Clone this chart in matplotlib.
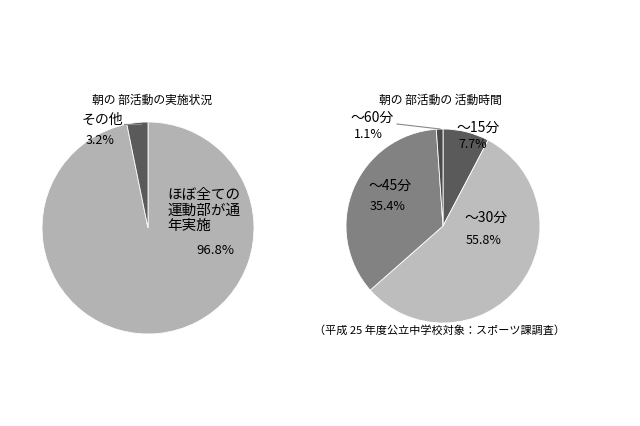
import matplotlib
matplotlib.use("Agg")
import matplotlib.pyplot as plt

plt.rcParams['font.family'] = ['Noto Sans CJK JP', 'DejaVu Sans']

left_labels = ["ほぼ全ての\n運動部が通\n年実施", "その他"]
left_values = [96.8, 3.2]
left_colors = ["#b3b3b3", "#5a5a5a"]

right_labels = ["～15分", "～30分", "～45分", "～60分"]
right_values = [7.7, 55.8, 35.4, 1.1]
right_colors = ["#5a5a5a", "#bdbdbd", "#828282", "#4a4a4a"]

W, H = 640, 426
fig = plt.figure(figsize=(6.4, 4.26), dpi=100)

def px_axes(x0, x1, y0, y1):
    return fig.add_axes([x0 / W, (H - y1) / H, (x1 - x0) / W, (y1 - y0) / H])

def ft(x, y, s, **kw):
    fig.text(x / W, (H - y) / H, s, **kw)

ax1 = px_axes(42, 254, 122, 334)
ax1.pie(left_values, colors=left_colors, startangle=90, counterclock=False,
        wedgeprops=dict(edgecolor="white", linewidth=0.6))
ax1.set_xlim(-1, 1); ax1.set_ylim(-1, 1)
ax1.set_aspect("equal")

ax2 = px_axes(346, 540, 128, 324)
ax2.pie(right_values, colors=right_colors, startangle=90, counterclock=False,
        wedgeprops=dict(edgecolor="white", linewidth=0.6))
ax2.set_xlim(-1, 1); ax2.set_ylim(-1, 1)
ax2.set_aspect("equal")

ft(152, 100, "朝の 部活動の実施状況", ha="center", va="center", fontsize=8.5)
ft(440, 100, "朝の 部活動の 活動時間", ha="center", va="center", fontsize=8.5)

ft(102, 120, "その他", ha="center", va="center", fontsize=10)
ft(100, 140, "3.2%", ha="center", va="center", fontsize=9)
fig.add_artist(plt.Line2D([124 / W, 141 / W], [(H - 124) / H, (H - 124) / H], color="#888888", lw=0.8))
ft(167, 188, "ほぼ全ての\n運動部が通\n年実施", ha="left", va="top", fontsize=10.5, linespacing=1.15)
ft(215, 250, "96.8%", ha="center", va="center", fontsize=9.5)

ft(372, 118, "～60分", ha="center", va="center", fontsize=10)
ft(368, 134, "1.1%", ha="center", va="center", fontsize=9)
fig.add_artist(plt.Line2D([397 / W, 440 / W], [(H - 124) / H, (H - 129) / H], color="#888888", lw=0.8))
ft(478, 128, "～15分", ha="center", va="center", fontsize=10)
ft(473, 145, "7.7%", ha="center", va="center", fontsize=9)
ft(486, 218, "～30分", ha="center", va="center", fontsize=10)
ft(484, 240, "55.8%", ha="center", va="center", fontsize=9)
ft(390, 186, "～45分", ha="center", va="center", fontsize=10)
ft(388, 206, "35.4%", ha="center", va="center", fontsize=9)

ft(440, 330, "（平成 25 年度公立中学校対象：スポーツ課調査）", ha="center", va="center", fontsize=8)

fig.savefig("out.png", dpi=100, facecolor="white")
